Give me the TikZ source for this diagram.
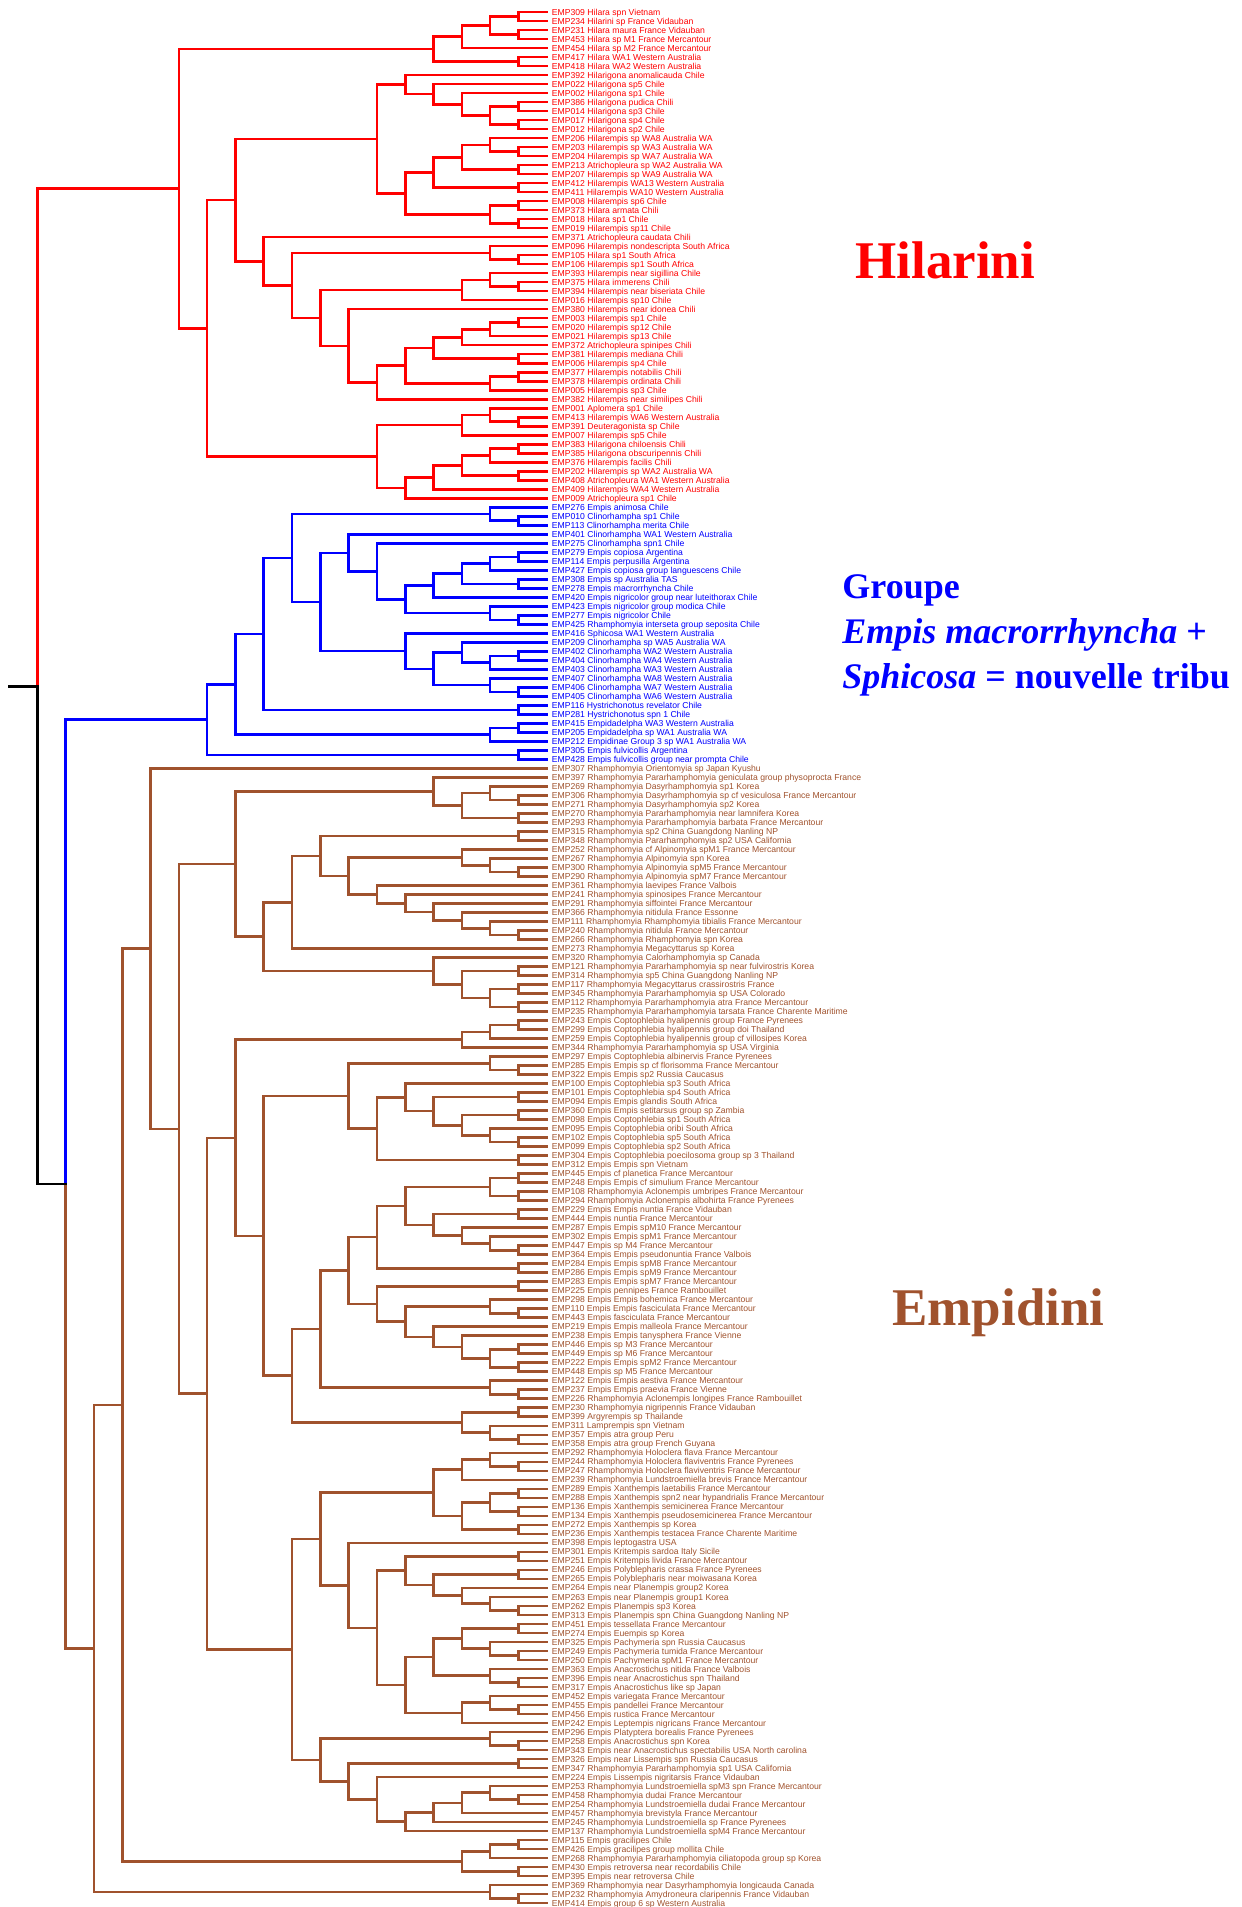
\documentclass[tikz,border=0pt]{standalone}
\usepackage{fontspec}
\setmainfont{Liberation Serif}
\newfontfamily\lblfont{Liberation Sans}
\usetikzlibrary{calc}

\definecolor{hil}{RGB}{255,0,0}
\definecolor{emb}{RGB}{0,0,255}
\definecolor{emd}{RGB}{160,82,45}

\newcounter{lf}
\def\cc{hil}

\tikzset{
  edge/.style={line width=1.3pt, line cap=rect},
  lbl/.style={anchor=west, inner sep=0pt, xshift=2.4pt,
    font=\lblfont\fontsize{4.32pt}{4.5pt}\selectfont, text height=3.1pt, text depth=0pt},
  title/.style={anchor=base west, inner sep=0pt},
}

% tip coordinate and label of one terminal taxon
\newcommand\lf[2]{%
  \stepcounter{lf}%
  \coordinate (#1) at (273.35pt, {-6pt-4.5025pt*(\thelf-1)});
  \node[lbl, text=\cc] (n#1) at (#1) {#2};
}
% internal node: one level left of its deeper child, halfway between children
\newcommand\cl[3]{%
  \path let \p1=(#2), \p2=(#3) in coordinate (#1) at ({min(\x1,\x2)-14.15pt},{(\y1+\y2)/2});
  \draw[edge,draw=\cc] (#1) |- (#2) (#1) |- (#3);
}
\newcommand\clc[5]{%
  \path let \p1=(#2), \p2=(#3) in coordinate (#1) at ({min(\x1,\x2)-14.15pt},{(\y1+\y2)/2});
  \draw[edge,draw=#4] (#1) |- (#2);
  \draw[edge,draw=#5] (#1) |- (#3);
}

\begin{document}
\begin{tikzpicture}
\useasboundingbox (0,0) rectangle (621pt,-953.5pt);

% ---------------- Hilarini ----------------
\def\cc{hil}
\lf{e309}{EMP309 Hilara spn Vietnam}
\lf{e234}{EMP234 Hilarini sp France Vidauban}
\lf{e231}{EMP231 Hilara maura France Vidauban}
\lf{e453}{EMP453 Hilara sp M1 France Mercantour}
\lf{e454}{EMP454 Hilara sp M2 France Mercantour}
\lf{e417}{EMP417 Hilara WA1 Western Australia}
\lf{e418}{EMP418 Hilara WA2 Western Australia}
\lf{e392}{EMP392 Hilarigona anomalicauda Chile}
\lf{e022}{EMP022 Hilarigona sp5 Chile}
\lf{e002}{EMP002 Hilarigona sp1 Chile}
\lf{e386}{EMP386 Hilarigona pudica Chili}
\lf{e014}{EMP014 Hilarigona sp3 Chile}
\lf{e017}{EMP017 Hilarigona sp4 Chile}
\lf{e012}{EMP012 Hilarigona sp2 Chile}
\lf{e206}{EMP206 Hilarempis sp WA8 Australia WA}
\lf{e203}{EMP203 Hilarempis sp WA3 Australia WA}
\lf{e204}{EMP204 Hilarempis sp WA7 Australia WA}
\lf{e213}{EMP213 Atrichopleura sp WA2 Australia WA}
\lf{e207}{EMP207 Hilarempis sp WA9 Australia WA}
\lf{e412}{EMP412 Hilarempis WA13 Western Australia}
\lf{e411}{EMP411 Hilarempis WA10 Western Australia}
\lf{e008}{EMP008 Hilarempis sp6 Chile}
\lf{e373}{EMP373 Hilara armata Chili}
\lf{e018}{EMP018 Hilara sp1 Chile}
\lf{e019}{EMP019 Hilarempis sp11 Chile}
\lf{e371}{EMP371 Atrichopleura caudata Chili}
\lf{e096}{EMP096 Hilarempis nondescripta South Africa}
\lf{e105}{EMP105 Hilara sp1 South Africa}
\lf{e106}{EMP106 Hilarempis sp1 South Africa}
\lf{e393}{EMP393 Hilarempis near sigillina Chile}
\lf{e375}{EMP375 Hilara immerens Chili}
\lf{e394}{EMP394 Hilarempis near biseriata Chile}
\lf{e016}{EMP016 Hilarempis sp10 Chile}
\lf{e380}{EMP380 Hilarempis near idonea Chili}
\lf{e003}{EMP003 Hilarempis sp1 Chile}
\lf{e020}{EMP020 Hilarempis sp12 Chile}
\lf{e021}{EMP021 Hilarempis sp13 Chile}
\lf{e372}{EMP372 Atrichopleura spinipes Chili}
\lf{e381}{EMP381 Hilarempis mediana Chili}
\lf{e006}{EMP006 Hilarempis sp4 Chile}
\lf{e377}{EMP377 Hilarempis notabilis Chili}
\lf{e378}{EMP378 Hilarempis ordinata Chili}
\lf{e005}{EMP005 Hilarempis sp3 Chile}
\lf{e382}{EMP382 Hilarempis near similipes Chili}
\lf{e001}{EMP001 Aplomera sp1 Chile}
\lf{e413}{EMP413 Hilarempis WA6 Western Australia}
\lf{e391}{EMP391 Deuteragonista sp Chile}
\lf{e007}{EMP007 Hilarempis sp5 Chile}
\lf{e383}{EMP383 Hilarigona chiloensis Chili}
\lf{e385}{EMP385 Hilarigona obscuripennis Chili}
\lf{e376}{EMP376 Hilarempis facilis Chili}
\lf{e202}{EMP202 Hilarempis sp WA2 Australia WA}
\lf{e408}{EMP408 Atrichopleura WA1 Western Australia}
\lf{e409}{EMP409 Hilarempis WA4 Western Australia}
\lf{e009}{EMP009 Atrichopleura sp1 Chile}

\cl{r1}{e309}{e234} \cl{r2}{e231}{e453} \cl{r3}{r1}{r2} \cl{r4}{r3}{e454}
\cl{r5}{e417}{e418} \cl{rA}{r4}{r5}
\cl{r6}{e386}{e014} \cl{r7}{e017}{e012} \cl{r8}{r6}{r7} \cl{r9}{e002}{r8}
\cl{r10}{e022}{r9} \cl{rB}{e392}{r10}
\cl{r11}{e203}{e204} \cl{r12}{e206}{r11} \cl{r13}{e213}{e207} \cl{rD}{r12}{r13}
\cl{r14}{e412}{e411} \cl{rE}{rD}{r14}
\cl{r15}{e008}{e373} \cl{r16}{e018}{e019} \cl{rF}{r15}{r16}
\cl{rG}{rE}{rF} \cl{rC}{rB}{rG}
\cl{r17}{e105}{e106} \cl{rN}{e096}{r17}
\cl{r18}{e375}{e394} \cl{r19}{e393}{r18} \cl{r20}{r19}{e016}
\cl{r21}{e003}{e020} \cl{r22}{r21}{e021} \cl{r23}{r22}{e372} \cl{r24}{e381}{e006}
\cl{rH1}{r23}{r24} \cl{r25}{e377}{e378} \cl{r26}{r25}{e005} \cl{rH2}{rH1}{r26}
\cl{rH3}{rH2}{e382} \cl{rI}{e380}{rH3} \cl{rJ}{r20}{rI}
\cl{r27}{e413}{e391} \cl{r28}{e001}{r27} \cl{r29}{r28}{e007}
\cl{r30}{e383}{e385} \cl{r31}{r30}{e376} \cl{r32}{e202}{e408} \cl{r33}{r31}{r32}
\cl{r34}{r33}{e409} \cl{r35}{r34}{e009} \cl{rM}{r29}{r35}
\cl{r36}{rN}{rJ} \cl{rZ}{e371}{r36} \cl{rY}{rC}{rZ} \cl{rX}{rY}{rM} \cl{rR}{rA}{rX}

% ---------------- Empis macrorrhyncha + Sphicosa ----------------
\def\cc{emb}
\lf{e276}{EMP276 Empis animosa Chile}
\lf{e010}{EMP010 Clinorhampha sp1 Chile}
\lf{e113}{EMP113 Clinorhampha merita Chile}
\lf{e401}{EMP401 Clinorhampha WA1 Western Australia}
\lf{e275}{EMP275 Clinorhampha spn1 Chile}
\lf{e279}{EMP279 Empis copiosa Argentina}
\lf{e114}{EMP114 Empis perpusilla Argentina}
\lf{e427}{EMP427 Empis copiosa group languescens Chile}
\lf{e308}{EMP308 Empis sp Australia TAS}
\lf{e278}{EMP278 Empis macrorrhyncha Chile}
\lf{e420}{EMP420 Empis nigricolor group near luteithorax Chile}
\lf{e423}{EMP423 Empis nigricolor group modica Chile}
\lf{e277}{EMP277 Empis nigricolor Chile}
\lf{e425}{EMP425 Rhamphomyia interseta group seposita Chile}
\lf{e416}{EMP416 Sphicosa WA1 Western Australia}
\lf{e209}{EMP209 Clinorhampha sp WA5 Australia WA}
\lf{e402}{EMP402 Clinorhampha WA2 Western Australia}
\lf{e404}{EMP404 Clinorhampha WA4 Western Australia}
\lf{e403}{EMP403 Clinorhampha WA3 Western Australia}
\lf{e407}{EMP407 Clinorhampha WA8 Western Australia}
\lf{e406}{EMP406 Clinorhampha WA7 Western Australia}
\lf{e405}{EMP405 Clinorhampha WA6 Western Australia}
\lf{e116}{EMP116 Hystrichonotus revelator Chile}
\lf{e281}{EMP281 Hystrichonotus spn 1 Chile}
\lf{e415}{EMP415 Empidadelpha WA3 Western Australia}
\lf{e205}{EMP205 Empidadelpha sp WA1 Australia WA}
\lf{e212}{EMP212 Empidinae Group 3 sp WA1 Australia WA}
\lf{e305}{EMP305 Empis fulvicollis Argentina}
\lf{e428}{EMP428 Empis fulvicollis group near prompta Chile}

\cl{b1}{e010}{e113} \cl{bP}{e276}{b1}
\cl{b2}{e279}{e114} \cl{b3}{b2}{e427} \cl{b4}{e308}{e278} \cl{b5}{b3}{b4} \cl{bQ1}{b5}{e420}
\cl{b6}{e277}{e425} \cl{b7}{e423}{b6} \cl{bQ2}{bQ1}{b7}
\cl{b8}{e275}{bQ2} \cl{bT1}{e401}{b8}
\cl{b9}{e402}{e404} \cl{b10}{b9}{e403} \cl{b11}{e209}{b10} \cl{b12}{e406}{e405}
\cl{b13}{e407}{b12} \cl{bS1}{b11}{b13}
\cl{b14}{e416}{bS1} \cl{bT}{bT1}{b14}
\cl{bU}{e116}{e281} \cl{b15}{e415}{e205} \cl{bV}{b15}{e212} \cl{bW}{e305}{e428}
\cl{b16}{bP}{bT} \cl{b17}{b16}{bU} \cl{b18}{b17}{bV} \cl{bB0}{b18}{bW}

% ---------------- Empidini ----------------
\def\cc{emd}
\lf{e307}{EMP307 Rhamphomyia Orientomyia sp Japan Kyushu}
\lf{e397}{EMP397 Rhamphomyia Pararhamphomyia geniculata group physoprocta France}
\lf{e269}{EMP269 Rhamphomyia Dasyrhamphomyia sp1 Korea}
\lf{e306}{EMP306 Rhamphomyia Dasyrhamphomyia sp cf vesiculosa France Mercantour}
\lf{e271}{EMP271 Rhamphomyia Dasyrhamphomyia sp2 Korea}
\lf{e270}{EMP270 Rhamphomyia Pararhamphomyia near lamnifera Korea}
\lf{e293}{EMP293 Rhamphomyia Pararhamphomyia barbata France Mercantour}
\lf{e315}{EMP315 Rhamphomyia sp2 China Guangdong Nanling NP}
\lf{e348}{EMP348 Rhamphomyia Pararhamphomyia sp2 USA California}
\lf{e252}{EMP252 Rhamphomyia cf Alpinomyia spM1 France Mercantour}
\lf{e267}{EMP267 Rhamphomyia Alpinomyia spn Korea}
\lf{e300}{EMP300 Rhamphomyia Alpinomyia spM5 France Mercantour}
\lf{e290}{EMP290 Rhamphomyia Alpinomyia spM7 France Mercantour}
\lf{e361}{EMP361 Rhamphomyia laevipes France Valbois}
\lf{e241}{EMP241 Rhamphomyia spinosipes France Mercantour}
\lf{e291}{EMP291 Rhamphomyia siffointei France Mercantour}
\lf{e366}{EMP366 Rhamphomyia nitidula France Essonne}
\lf{e111}{EMP111 Rhamphomyia Rhamphomyia tibialis France Mercantour}
\lf{e240}{EMP240 Rhamphomyia nitidula France Mercantour}
\lf{e266}{EMP266 Rhamphomyia Rhamphomyia spn Korea}
\lf{e273}{EMP273 Rhamphomyia Megacyttarus sp Korea}
\lf{e320}{EMP320 Rhamphomyia Calorhamphomyia sp Canada}
\lf{e121}{EMP121 Rhamphomyia Pararhamphomyia sp near fulvirostris Korea}
\lf{e314}{EMP314 Rhamphomyia sp5 China Guangdong Nanling NP}
\lf{e117}{EMP117 Rhamphomyia Megacyttarus crassirostris France}
\lf{e345}{EMP345 Rhamphomyia Pararhamphomyia sp USA Colorado}
\lf{e112}{EMP112 Rhamphomyia Pararhamphomyia atra France Mercantour}
\lf{e235}{EMP235 Rhamphomyia Pararhamphomyia tarsata France Charente Maritime}
\lf{e243}{EMP243 Empis Coptophlebia hyalipennis group France Pyrenees}
\lf{e299}{EMP299 Empis Coptophlebia hyalipennis group doi Thailand}
\lf{e259}{EMP259 Empis Coptophlebia hyalipennis group cf villosipes Korea}
\lf{e344}{EMP344 Rhamphomyia Pararhamphomyia sp USA Virginia}
\lf{e297}{EMP297 Empis Coptophlebia albinervis France Pyrenees}
\lf{e285}{EMP285 Empis Empis sp cf florisomma France Mercantour}
\lf{e322}{EMP322 Empis Empis sp2 Russia Caucasus}
\lf{e100}{EMP100 Empis Coptophlebia sp3 South Africa}
\lf{e101}{EMP101 Empis Coptophlebia sp4 South Africa}
\lf{e094}{EMP094 Empis Empis glandis South Africa}
\lf{e360}{EMP360 Empis Empis setitarsus group sp Zambia}
\lf{e098}{EMP098 Empis Coptophlebia sp1 South Africa}
\lf{e095}{EMP095 Empis Coptophlebia oribi South Africa}
\lf{e102}{EMP102 Empis Coptophlebia sp5 South Africa}
\lf{e099}{EMP099 Empis Coptophlebia sp2 South Africa}
\lf{e304}{EMP304 Empis Coptophlebia poecilosoma group sp 3 Thailand}
\lf{e312}{EMP312 Empis Empis spn Vietnam}
\lf{e445}{EMP445 Empis cf planetica France Mercantour}
\lf{e248}{EMP248 Empis Empis cf simulium France Mercantour}
\lf{e108}{EMP108 Rhamphomyia Aclonempis umbripes France Mercantour}
\lf{e294}{EMP294 Rhamphomyia Aclonempis albohirta France Pyrenees}
\lf{e229}{EMP229 Empis Empis nuntia France Vidauban}
\lf{e444}{EMP444 Empis nuntia France Mercantour}
\lf{e287}{EMP287 Empis Empis spM10 France Mercantour}
\lf{e302}{EMP302 Empis Empis spM1 France Mercantour}
\lf{e447}{EMP447 Empis sp M4 France Mercantour}
\lf{e364}{EMP364 Empis Empis pseudonuntia France Valbois}
\lf{e284}{EMP284 Empis Empis spM8 France Mercantour}
\lf{e286}{EMP286 Empis Empis spM9 France Mercantour}
\lf{e283}{EMP283 Empis Empis spM7 France Mercantour}
\lf{e225}{EMP225 Empis pennipes France Rambouillet}
\lf{e298}{EMP298 Empis Empis bohemica France Mercantour}
\lf{e110}{EMP110 Empis Empis fasciculata France Mercantour}
\lf{e443}{EMP443 Empis fasciculata France Mercantour}
\lf{e219}{EMP219 Empis Empis malleola France Mercantour}
\lf{e238}{EMP238 Empis Empis tanysphera France Vienne}
\lf{e446}{EMP446 Empis sp M3 France Mercantour}
\lf{e449}{EMP449 Empis sp M6 France Mercantour}
\lf{e222}{EMP222 Empis Empis spM2 France Mercantour}
\lf{e448}{EMP448 Empis sp M5 France Mercantour}
\lf{e122}{EMP122 Empis Empis aestiva France Mercantour}
\lf{e237}{EMP237 Empis Empis praevia France Vienne}
\lf{e226}{EMP226 Rhamphomyia Aclonempis longipes France Rambouillet}
\lf{e230}{EMP230 Rhamphomyia nigripennis France Vidauban}
\lf{e399}{EMP399 Argyrempis sp Thailande}
\lf{e311}{EMP311 Lamprempis spn Vietnam}
\lf{e357}{EMP357 Empis atra group Peru}
\lf{e358}{EMP358 Empis atra group French Guyana}
\lf{e292}{EMP292 Rhamphomyia Holoclera flava France Mercantour}
\lf{e244}{EMP244 Rhamphomyia Holoclera flaviventris France Pyrenees}
\lf{e247}{EMP247 Rhamphomyia Holoclera flaviventris France Mercantour}
\lf{e239}{EMP239 Rhamphomyia Lundstroemiella brevis France Mercantour}
\lf{e289}{EMP289 Empis Xanthempis laetabilis France Mercantour}
\lf{e288}{EMP288 Empis Xanthempis spn2 near hypandrialis France Mercantour}
\lf{e136}{EMP136 Empis Xanthempis semicinerea France Mercantour}
\lf{e134}{EMP134 Empis Xanthempis pseudosemicinerea France Mercantour}
\lf{e272}{EMP272 Empis Xanthempis sp Korea}
\lf{e236}{EMP236 Empis Xanthempis testacea France Charente Maritime}
\lf{e398}{EMP398 Empis leptogastra USA}
\lf{e301}{EMP301 Empis Kritempis sardoa Italy Sicile}
\lf{e251}{EMP251 Empis Kritempis livida France Mercantour}
\lf{e246}{EMP246 Empis Polyblepharis crassa France Pyrenees}
\lf{e265}{EMP265 Empis Polyblepharis near moiwasana Korea}
\lf{e264}{EMP264 Empis near Planempis group2 Korea}
\lf{e263}{EMP263 Empis near Planempis group1 Korea}
\lf{e262}{EMP262 Empis Planempis sp3 Korea}
\lf{e313}{EMP313 Empis Planempis spn China Guangdong Nanling NP}
\lf{e451}{EMP451 Empis tessellata France Mercantour}
\lf{e274}{EMP274 Empis Euempis sp Korea}
\lf{e325}{EMP325 Empis Pachymeria spn Russia Caucasus}
\lf{e249}{EMP249 Empis Pachymeria tumida France Mercantour}
\lf{e250}{EMP250 Empis Pachymeria spM1 France Mercantour}
\lf{e363}{EMP363 Empis Anacrostichus nitida France Valbois}
\lf{e396}{EMP396 Empis near Anacrostichus spn Thailand}
\lf{e317}{EMP317 Empis Anacrostichus like sp Japan}
\lf{e452}{EMP452 Empis variegata France Mercantour}
\lf{e455}{EMP455 Empis pandellei France Mercantour}
\lf{e456}{EMP456 Empis rustica France Mercantour}
\lf{e242}{EMP242 Empis Leptempis nigricans France Mercantour}
\lf{e296}{EMP296 Empis Platyptera borealis France Pyrenees}
\lf{e258}{EMP258 Empis Anacrostichus spn Korea}
\lf{e343}{EMP343 Empis near Anacrostichus spectabilis USA North carolina}
\lf{e326}{EMP326 Empis near Lissempis spn Russia Caucasus}
\lf{e347}{EMP347 Rhamphomyia Pararhamphomyia sp1 USA California}
\lf{e224}{EMP224 Empis Lissempis nigritarsis France Vidauban}
\lf{e253}{EMP253 Rhamphomyia Lundstroemiella spM3 spn France Mercantour}
\lf{e458}{EMP458 Rhamphomyia dudai France Mercantour}
\lf{e254}{EMP254 Rhamphomyia Lundstroemiella dudai France Mercantour}
\lf{e457}{EMP457 Rhamphomyia brevistyla France Mercantour}
\lf{e245}{EMP245 Rhamphomyia Lundstroemiella sp France Pyrenees}
\lf{e137}{EMP137 Rhamphomyia Lundstroemiella spM4 France Mercantour}
\lf{e115}{EMP115 Empis gracilipes Chile}
\lf{e426}{EMP426 Empis gracilipes group mollita Chile}
\lf{e268}{EMP268 Rhamphomyia Pararhamphomyia ciliatopoda group sp Korea}
\lf{e430}{EMP430 Empis retroversa near recordabilis Chile}
\lf{e395}{EMP395 Empis near retroversa Chile}
\lf{e369}{EMP369 Rhamphomyia near Dasyrhamphomyia longicauda Canada}
\lf{e232}{EMP232 Rhamphomyia Amydroneura claripennis France Vidauban}
\lf{e414}{EMP414 Empis group 6 sp Western Australia}

\cl{m1}{e306}{e271} \cl{m2}{e269}{m1} \cl{m3}{e270}{e293} \cl{m4}{m2}{m3} \cl{mBA}{e397}{m4}
\cl{m5}{e315}{e348} \cl{m6}{e300}{e290} \cl{m7}{e267}{m6} \cl{m8}{e252}{m7}
\cl{m9}{e240}{e266} \cl{m10}{e111}{m9} \cl{m11}{e366}{m10} \cl{m12}{e291}{m11}
\cl{m13}{e241}{m12} \cl{m14}{e361}{m13} \cl{m15}{m8}{m14} \cl{mBB}{m5}{m15}
\cl{m16}{e121}{e314} \cl{m17}{e117}{e345} \cl{m18}{e112}{e235} \cl{m19}{m17}{m18}
\cl{m20}{m16}{m19} \cl{mBC}{e320}{m20}
\cl{m21}{e243}{e299} \cl{m22}{m21}{e259} \cl{mBD}{m22}{e344}
\cl{m23}{e285}{e322} \cl{m24}{e297}{m23} \cl{m25}{e101}{e094} \cl{m26}{e360}{e098}
\cl{m27}{e102}{e099} \cl{m28}{e095}{m27} \cl{m29}{m26}{m28} \cl{m30}{m25}{m29}
\cl{m31}{e100}{m30} \cl{m32}{e304}{e312} \cl{m33}{m31}{m32} \cl{mBE}{m24}{m33}
\cl{m34}{e445}{e248} \cl{m35}{e108}{e294} \cl{m36}{m34}{m35} \cl{m37}{e229}{e444}
\cl{m38}{e447}{e364} \cl{m39}{e302}{m38} \cl{m40}{e287}{m39} \cl{m41}{m37}{m40}
\cl{m42}{m36}{m41} \cl{m43}{e284}{e286} \cl{m44}{m42}{m43}
\cl{m45}{e283}{e225} \cl{m46}{e110}{e443} \cl{m47}{e298}{m46} \cl{m48}{e446}{e449}
\cl{m49}{e222}{e448} \cl{m50}{m48}{m49} \cl{m51}{e238}{m50} \cl{m52}{e219}{m51}
\cl{m53}{m47}{m52} \cl{m54}{m45}{m53} \cl{mBF}{m44}{m54}
\cl{m55}{e237}{e226} \cl{m56}{e122}{m55} \cl{mBG}{mBF}{m56}
\cl{m57}{e230}{e399} \cl{m58}{e357}{e358} \cl{m59}{e311}{m58} \cl{mBH}{m57}{m59}
\cl{m60}{e244}{e247} \cl{m61}{e292}{m60} \cl{m62}{m61}{e239} \cl{m63}{e289}{e288}
\cl{m64}{e136}{e134} \cl{m65}{m63}{m64} \cl{m66}{e272}{e236} \cl{m67}{m65}{m66}
\cl{mBI}{m62}{m67}
\cl{m68}{e301}{e251} \cl{m69}{e246}{e265} \cl{m70}{e262}{e313} \cl{m71}{e263}{m70}
\cl{m72}{e264}{m71} \cl{m73}{m69}{m72} \cl{m74}{m68}{m73}
\cl{m75}{e451}{e274} \cl{m76}{e249}{e250} \cl{m77}{e325}{m76} \cl{m78}{m75}{m77}
\cl{m79}{e396}{e317} \cl{m80}{e363}{m79} \cl{m81}{m78}{m80} \cl{m82}{e455}{e456}
\cl{m83}{e452}{m82} \cl{m84}{m83}{e242} \cl{m85}{m81}{m84} \cl{m86}{m74}{m85}
\cl{mBJ}{e398}{m86} \cl{mBK}{mBI}{mBJ}
\cl{m87}{e258}{e343} \cl{m88}{e296}{m87} \cl{m89}{e326}{e347} \cl{m90}{e458}{e254}
\cl{m91}{e253}{m90} \cl{m92}{m91}{e457} \cl{m93}{m92}{e245} \cl{m94}{m93}{e137}
\cl{m95}{e224}{m94} \cl{m96}{m89}{m95} \cl{mBL}{m88}{m96}
\cl{m97}{e115}{e426} \cl{m98}{m97}{e268} \cl{m99}{e430}{e395} \cl{mBM}{m98}{m99}
\cl{m100}{e232}{e414} \cl{mBN}{e369}{m100}
% backbone of the tribe: Rhamphomyia group above, Empis group below
\cl{m101}{mBB}{e273} \cl{m102}{m101}{mBC} \cl{mXt}{mBA}{m102}
\cl{m103}{mBG}{mBH} \cl{m104}{mBE}{m103} \cl{m105}{mBD}{m104}
\cl{m106}{mBK}{mBL} \cl{mXb}{m105}{m106}
\cl{mX14}{mXt}{mXb} \cl{mX15}{e307}{mX14} \cl{mX16}{mX15}{mBM} \cl{mBR}{mX16}{mBN}

% ---------------- root ----------------
\clc{bx}{bB0}{mBR}{emb}{emd}
\clc{root}{rR}{bx}{hil}{black}
\coordinate (stub) at ($(root)+(-13.8pt,0)$);
\draw[edge,draw=black] (stub) -- (root);

% ---------------- tribe names ----------------
\node[title, text=hil, font=\fontsize{26.5pt}{30pt}\selectfont\bfseries] (thil) at (427.5pt,-139.3pt) {Hilarini};
\node[title, text=emb, font=\fontsize{18pt}{22pt}\selectfont\bfseries] (tg1) at (421pt,-299.3pt) {Groupe};
\node[title, text=emb, font=\fontsize{18pt}{22pt}\selectfont\bfseries] (tg2) at (421pt,-321.8pt) {\itshape Empis macrorrhyncha \upshape+};
\node[title, text=emb, font=\fontsize{18pt}{22pt}\selectfont\bfseries] (tg3) at (421pt,-344.3pt) {\itshape Sphicosa \upshape= nouvelle tribu};
\node[title, text=emd, font=\fontsize{26.5pt}{30pt}\selectfont\bfseries] (temp) at (446pt,-662.5pt) {Empidini};
\end{tikzpicture}
\end{document}
